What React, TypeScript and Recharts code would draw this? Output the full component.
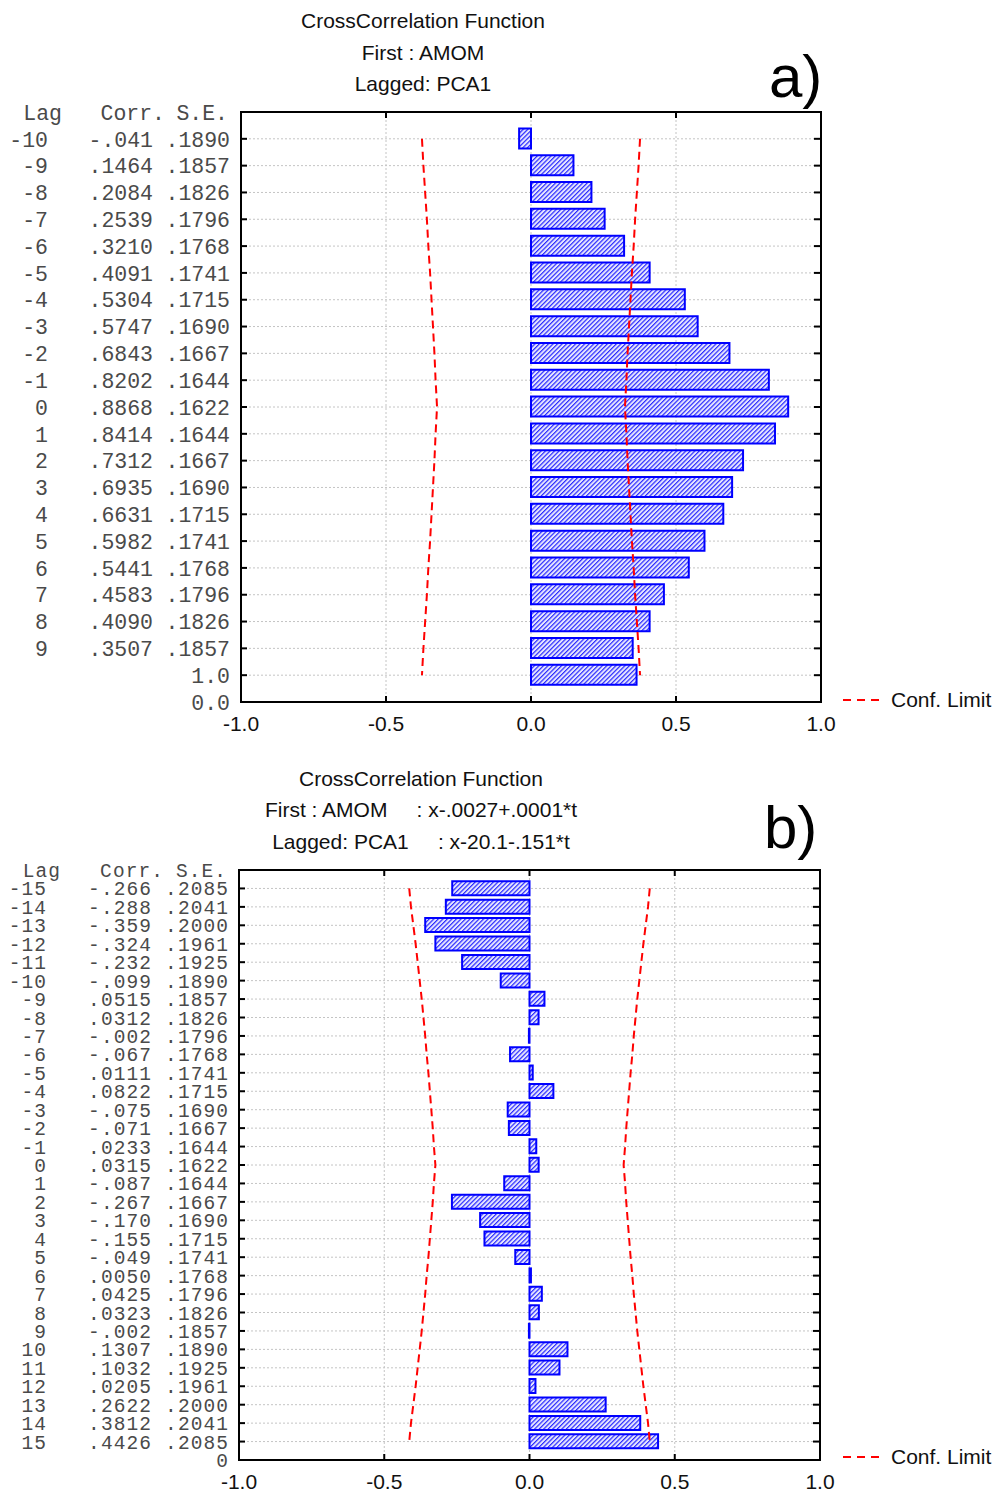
import React from 'react';
import { ComposedChart, Bar, Line, XAxis, YAxis, CartesianGrid, ReferenceArea, Legend } from 'recharts';

// ---------- Panel a data ----------
const lagsA = [-10, -9, -8, -7, -6, -5, -4, -3, -2, -1, 0, 1, 2, 3, 4, 5, 6, 7, 8, 9];
const corrA = [-0.041, 0.1464, 0.2084, 0.2539, 0.321, 0.4091, 0.5304, 0.5747, 0.6843, 0.8202, 0.8868, 0.8414, 0.7312, 0.6935, 0.6631, 0.5982, 0.5441, 0.4583, 0.409, 0.3507];
const seA = [0.189, 0.1857, 0.1826, 0.1796, 0.1768, 0.1741, 0.1715, 0.169, 0.1667, 0.1644, 0.1622, 0.1644, 0.1667, 0.169, 0.1715, 0.1741, 0.1768, 0.1796, 0.1826, 0.1857];
const extraBarsA = [0.364];
const trailingLabelsA = ['1.0', '0.0'];
const confA = [0.376, 0.371, 0.365, 0.359, 0.354, 0.348, 0.343, 0.338, 0.333, 0.329, 0.324, 0.329, 0.333, 0.338, 0.343, 0.348, 0.354, 0.359, 0.365, 0.371, 0.376];
const titleA = ['CrossCorrelation Function', 'First : AMOM', 'Lagged: PCA1'];

// ---------- Panel b data ----------
const lagsB = [-15, -14, -13, -12, -11, -10, -9, -8, -7, -6, -5, -4, -3, -2, -1, 0, 1, 2, 3, 4, 5, 6, 7, 8, 9, 10, 11, 12, 13, 14, 15];
const corrB = [-0.266, -0.288, -0.359, -0.324, -0.232, -0.099, 0.0515, 0.0312, -0.002, -0.067, 0.0111, 0.0822, -0.075, -0.071, 0.0233, 0.0315, -0.087, -0.267, -0.17, -0.155, -0.049, 0.005, 0.0425, 0.0323, -0.002, 0.1307, 0.1032, 0.0205, 0.2622, 0.3812, 0.4426];
const seB = [0.2085, 0.2041, 0.2, 0.1961, 0.1925, 0.189, 0.1857, 0.1826, 0.1796, 0.1768, 0.1741, 0.1715, 0.169, 0.1667, 0.1644, 0.1622, 0.1644, 0.1667, 0.169, 0.1715, 0.1741, 0.1768, 0.1796, 0.1826, 0.1857, 0.189, 0.1925, 0.1961, 0.2, 0.2041, 0.2085];
const extraBarsB: number[] = [];
const trailingLabelsB = ['0'];
const confB = [0.414, 0.408, 0.4, 0.392, 0.385, 0.378, 0.371, 0.365, 0.359, 0.354, 0.348, 0.343, 0.338, 0.333, 0.329, 0.324, 0.329, 0.333, 0.338, 0.343, 0.348, 0.354, 0.359, 0.365, 0.371, 0.378, 0.385, 0.392, 0.4, 0.408, 0.414];
const titleB = ['CrossCorrelation Function', 'First : AMOM     : x-.0027+.0001*t', 'Lagged: PCA1     : x-20.1-.151*t'];

const xTicks = [-1, -0.5, 0, 0.5, 1];
const headerLabels = ['Lag', 'Corr.', 'S.E.'];
const legendName = 'Conf. Limit';

const MONO = '"Liberation Mono", "DejaVu Sans Mono", monospace';
const SANS = '"Liberation Sans", Arial, sans-serif';
const BLUE = '#0000ff';
const RED = '#ff0000';
const Y_AXIS_W = 230;
const X_AXIS_H = 30;
const Y_TICK_MARGIN = 11;
const X_TICK_MARGIN = 14;

const fmtCorr = (v: number) => (v < 0 ? '-' + Math.abs(v).toFixed(3).slice(1) : v.toFixed(4).slice(1));
const fmtSE = (v: number) => v.toFixed(4).slice(1);

type Cfg = {
  id: string;
  lags: number[];
  corr: number[];
  se: number[];
  extraBars: number[];
  trailing: string[];
  conf: number[];
  top: number;
  height: number;
  plotTop: number;
  plotBottom: number;
  plotLeft: number;
  plotRight: number;
  barSize: number;
  legendY: number;
  monoSize: number;
  monoSpacing: number;
};

const cfgA: Cfg = {
  id: 'a', lags: lagsA, corr: corrA, se: seA, extraBars: extraBarsA, trailing: trailingLabelsA, conf: confA,
  top: 0, height: 750, plotTop: 112, plotBottom: 702, plotLeft: 241, plotRight: 821, barSize: 20, legendY: 700,
  monoSize: 21.5, monoSpacing: 0,
};
const cfgB: Cfg = {
  id: 'b', lags: lagsB, corr: corrB, se: seB, extraBars: extraBarsB, trailing: trailingLabelsB, conf: confB,
  top: 750, height: 743, plotTop: 120, plotBottom: 710, plotLeft: 239, plotRight: 820, barSize: 14, legendY: 707,
  monoSize: 19.5, monoSpacing: 1.1,
};

function Panel({ cfg }: { cfg: Cfg }) {
  const n = cfg.lags.length;
  const N = n + cfg.trailing.length;
  const values = cfg.corr.concat(cfg.extraBars);
  const data = values.map((v, i) => ({ pos: i + 1, corr: v, hi: cfg.conf[i], lo: -cfg.conf[i] }));
  const yTicks = Array.from({ length: N + 1 }, (_, i) => i);
  const W = 1000;
  const margin = {
    top: cfg.plotTop,
    right: W - cfg.plotRight,
    bottom: cfg.height - cfg.plotBottom - X_AXIS_H,
    left: cfg.plotLeft - Y_AXIS_W,
  };
  const monoStyle: React.CSSProperties = { fontFamily: MONO, fontSize: cfg.monoSize, letterSpacing: cfg.monoSpacing, fill: '#4a4a4a' };
  const ls = cfg.monoSpacing;

  const YTick = (props: any) => {
    const { x, y, payload } = props;
    const p = payload.value as number;
    const tx = x + ls; // compensate trailing letter spacing
    const left = x + Y_TICK_MARGIN;
    const els: React.ReactNode[] = [];
    if (p === 0) {
      els.push(<text key="h1" x={tx - 168} y={y} dy="0.36em" textAnchor="end" style={monoStyle}>{headerLabels[0]}</text>);
      els.push(<text key="h2" x={tx - 65} y={y} dy="0.36em" textAnchor="end" style={monoStyle}>{headerLabels[1]}</text>);
      els.push(<text key="h3" x={tx - 2} y={y} dy="0.36em" textAnchor="end" style={monoStyle}>{headerLabels[2]}</text>);
    } else if (p <= n) {
      els.push(<text key="l" x={tx - 182} y={y} dy="0.36em" textAnchor="end" style={monoStyle}>{String(cfg.lags[p - 1])}</text>);
      els.push(<text key="c" x={tx - 77} y={y} dy="0.36em" textAnchor="end" style={monoStyle}>{fmtCorr(cfg.corr[p - 1])}</text>);
      els.push(<text key="s" x={tx} y={y} dy="0.36em" textAnchor="end" style={monoStyle}>{fmtSE(cfg.se[p - 1])}</text>);
    } else {
      els.push(<text key="t" x={tx} y={y} dy="0.36em" textAnchor="end" style={monoStyle}>{cfg.trailing[p - n - 1]}</text>);
    }
    if (p > 0 && p < N) {
      els.push(<line key="tl" x1={left} x2={left + 6} y1={y} y2={y} stroke="#000" strokeWidth={2} />);
      els.push(<line key="tr" x1={cfg.plotRight - 7} x2={cfg.plotRight} y1={y} y2={y} stroke="#000" strokeWidth={2} />);
    }
    return <g>{els}</g>;
  };

  const XTick = (props: any) => {
    const { x, y, payload } = props;
    const v = payload.value as number;
    const bottom = y - X_TICK_MARGIN;
    const inner = v > -1 && v < 1;
    return (
      <g>
        {inner && <line x1={x} x2={x} y1={bottom} y2={bottom - 6} stroke="#000" strokeWidth={2} />}
        {inner && <line x1={x} x2={x} y1={cfg.plotTop} y2={cfg.plotTop + 6} stroke="#000" strokeWidth={2} />}
        <text x={x} y={y} dy="0.71em" textAnchor="middle" style={{ fontFamily: SANS, fontSize: 21, fill: '#111' }}>
          {v.toFixed(1)}
        </text>
      </g>
    );
  };

  const renderLegend = (props: any) => {
    const payload = (props.payload || []).filter((e: any) => e.type !== 'none' && e.value === legendName);
    const entries = payload.length ? [payload[0]] : [{ value: legendName, color: RED }];
    return (
      <div>
        {entries.map((e: any, i: number) => (
          <div key={i} style={{ display: 'flex', alignItems: 'center', height: 24 }}>
            <svg width={38} height={10} style={{ display: 'block' }}>
              <line x1={0} x2={38} y1={5} y2={5} stroke={RED} strokeWidth={2} strokeDasharray="8 6" />
            </svg>
            <span style={{ marginLeft: 10, fontFamily: SANS, fontSize: 21, color: '#111', whiteSpace: 'nowrap' }}>{e.value}</span>
          </div>
        ))}
      </div>
    );
  };

  const pid = `hatch-${cfg.id}`;
  return (
    <div style={{ position: 'absolute', left: 0, top: cfg.top, width: W, height: cfg.height }}>
      <ComposedChart width={W} height={cfg.height} data={data} layout="vertical" margin={margin}>
        <defs>
          <pattern id={pid} width={3.2} height={3.2} patternUnits="userSpaceOnUse" patternTransform="rotate(45)">
            <rect x={0} y={0} width={3.2} height={3.2} fill="#e6e6ff" />
            <line x1={0.6} y1={0} x2={0.6} y2={3.2} stroke="#2a2aff" strokeWidth={1.2} />
          </pattern>
        </defs>
        <CartesianGrid stroke="#c4c4c4" strokeDasharray="2 2" strokeWidth={1} />
        <XAxis
          type="number"
          domain={[-1, 1]}
          ticks={xTicks}
          allowDataOverflow
          height={X_AXIS_H}
          axisLine={false}
          tickLine={false}
          tickSize={0}
          tickMargin={X_TICK_MARGIN}
          interval={0}
          tick={<XTick />}
        />
        <YAxis
          type="number"
          dataKey="pos"
          domain={[0, N]}
          ticks={yTicks}
          allowDataOverflow
          width={Y_AXIS_W}
          axisLine={false}
          tickLine={false}
          tickSize={0}
          tickMargin={Y_TICK_MARGIN}
          interval={0}
          tick={<YTick />}
        />
        <Bar
          dataKey="corr"
          barSize={cfg.barSize}
          fill={`url(#${pid})`}
          stroke={BLUE}
          strokeWidth={2}
          legendType="none"
          isAnimationActive={false}
        />
        <Line
          dataKey="hi"
          name={legendName}
          type="linear"
          stroke={RED}
          strokeWidth={2}
          strokeDasharray="8 5"
          dot={false}
          activeDot={false}
          isAnimationActive={false}
        />
        <Line
          dataKey="lo"
          name="lo"
          type="linear"
          stroke={RED}
          strokeWidth={2}
          strokeDasharray="8 5"
          dot={false}
          activeDot={false}
          legendType="none"
          isAnimationActive={false}
        />
        <ReferenceArea x1={-1} x2={1} y1={0} y2={N} fill="none" fillOpacity={0} stroke="#000" strokeWidth={2} ifOverflow="visible" />
        <Legend
          layout="horizontal"
          verticalAlign="middle"
          align="center"
          wrapperStyle={{ position: 'absolute', left: 843, top: cfg.legendY - 12, width: 157, height: 24 }}
          content={renderLegend}
        />
      </ComposedChart>
    </div>
  );
}

function Titles() {
  const st: React.CSSProperties = { fontFamily: SANS, fontSize: 21, fill: '#111', whiteSpace: 'pre' };
  const big: React.CSSProperties = { fontFamily: SANS, fontSize: 60, fill: '#000' };
  return (
    <svg width={1000} height={1493} style={{ position: 'absolute', left: 0, top: 0, pointerEvents: 'none' }}>
      <text x={423} y={28} textAnchor="middle" style={st}>{titleA[0]}</text>
      <text x={423} y={60} textAnchor="middle" style={st}>{titleA[1]}</text>
      <text x={423} y={91} textAnchor="middle" style={st}>{titleA[2]}</text>
      <text x={769} y={97} style={big}>a)</text>
      <text x={421} y={786} textAnchor="middle" style={st} xmlSpace="preserve">{titleB[0]}</text>
      <text x={421} y={817} textAnchor="middle" style={st} xmlSpace="preserve">{titleB[1]}</text>
      <text x={421} y={849} textAnchor="middle" style={st} xmlSpace="preserve">{titleB[2]}</text>
      <text x={764} y={848} style={big}>b)</text>
    </svg>
  );
}

export default function App() {
  return (
    <div style={{ position: 'absolute', left: 0, top: 0, width: 1000, height: 1493, background: '#fff' }}>
      <Panel cfg={cfgA} />
      <Panel cfg={cfgB} />
      <Titles />
    </div>
  );
}
